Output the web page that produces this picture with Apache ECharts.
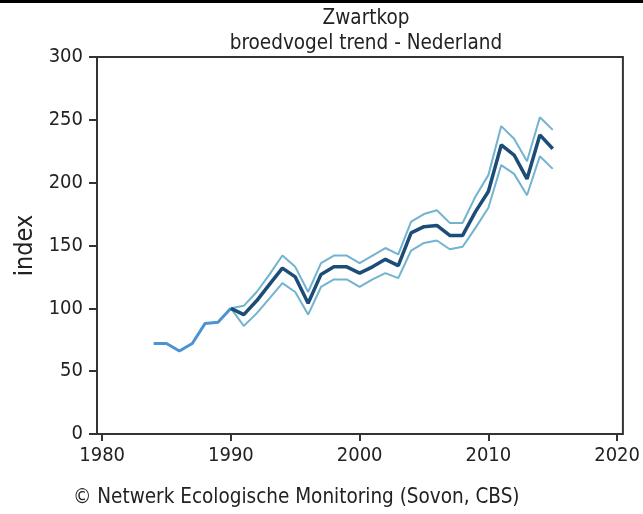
<!DOCTYPE html>
<html><head><meta charset="utf-8">
<script src="https://cdn.jsdelivr.net/npm/echarts@6/dist/echarts.min.js"></script>
<style>html,body{margin:0;padding:0;background:#fff}#c{width:643px;height:514px}</style>
</head><body><div id="c"></div>
<script>
var titleLines = ['Zwartkop', 'broedvogel trend - Nederland'];
var footer = '\u00a9 Netwerk Ecologische Monitoring (Sovon, CBS)';
var yLabel = 'index';
var xTicks = [1980, 1990, 2000, 2010, 2020];
var yTicks = [0, 50, 100, 150, 200, 250, 300];
var earlyYears = [1984, 1985, 1986, 1987, 1988, 1989, 1990];
var earlyIndex = [72, 72, 66, 72, 88, 89, 100];
var years = [1990,1991,1992,1993,1994,1995,1996,1997,1998,1999,2000,2001,2002,2003,2004,2005,2006,2007,2008,2009,2010,2011,2012,2013,2014,2015];
var mainIndex = [100,95,106,119,132,125,104,127,133,133,128,133,139,134,160,165,166,158,158,177,193,230,222,203,238,227];
var upperIndex = [100,102,113,127,142,133,113,136,142,142,136,142,148,143,169,175,178,168,168,189,206,245,235,217,252,242];
var lowerIndex = [100,86,96,108,120,113,95,117,123,123,117,123,128,124,146,152,154,147,149,164,180,214,207,190,221,211];

function pairs(xs, ys){ return xs.map(function(x,i){ return [x, ys[i]]; }); }
var FONT = '"DejaVu Sans Condensed", "DejaVu Sans", sans-serif';
var chart = echarts.init(document.getElementById('c'), null, {renderer:'canvas'});
chart.setOption({
  animation:false,
  backgroundColor:'#fff',
  title:{text:titleLines.join('\n'), left:361, top:1, textAlign:'center',
    textStyle:{fontFamily:FONT, fontSize:20.5, fontWeight:'normal', color:'#222', lineHeight:25}},
  graphic:[
    {type:'rect', shape:{x:0,y:0,width:643,height:3}, style:{fill:'#000'}},
    {type:'text', left:73, top:487, style:{text:footer, font:'20.5px "DejaVu Sans Condensed", "DejaVu Sans"', fill:'#222'}}
  ],
  grid:{left:97, right:18, top:57, bottom:80, show:true, borderColor:'#333', borderWidth:2, backgroundColor:'#fff'},
  xAxis:{type:'value', min:1979.6, max:2020.45,
    axisLine:{show:false},
    splitLine:{show:false},
    axisTick:{show:true, inside:false, length:7, customValues:xTicks, lineStyle:{color:'#333', width:2}},
    axisLabel:{customValues:xTicks, formatter:function(v){return String(v);}, fontFamily:FONT, fontSize:20, color:'#222', margin:12}
  },
  yAxis:{type:'value', min:0, max:300, interval:50,
    name:yLabel, nameLocation:'middle', nameGap:59, nameTextStyle:{fontFamily:FONT, fontSize:25, color:'#222'},
    axisLine:{show:false},
    splitLine:{show:false},
    axisTick:{show:true, inside:false, length:8, lineStyle:{color:'#333', width:2}},
    axisLabel:{fontFamily:FONT, fontSize:20, color:'#222', margin:14}
  },
  series:[
    {type:'line', data:pairs(years, upperIndex), symbol:'none', lineStyle:{color:'#72b4d0', width:2}},
    {type:'line', data:pairs(years, lowerIndex), symbol:'none', lineStyle:{color:'#72b4d0', width:2}},
    {type:'line', data:pairs(earlyYears, earlyIndex), symbol:'none', lineStyle:{color:'#4b93d3', width:3}},
    {type:'line', data:pairs(years, mainIndex), symbol:'none', lineStyle:{color:'#1b4d78', width:3.5}}
  ]
});
</script></body></html>
